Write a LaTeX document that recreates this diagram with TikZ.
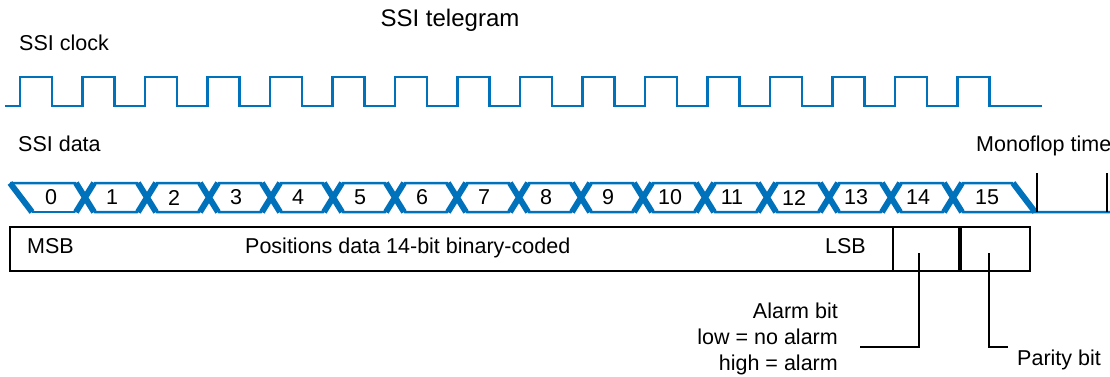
\documentclass[tikz,border=0pt]{standalone}
\usepackage{fontspec}
\setmainfont{Liberation Sans}
\usepackage{tikz}
\usepackage{xcolor}
\definecolor{ssiblue}{RGB}{0,114,188}

\begin{document}
\begin{tikzpicture}[x=1pt, y=-1pt,
    every node/.style={inner sep=0pt, font=\fontsize{21.5}{25.5}\selectfont},
    wave/.style={ssiblue, line width=2.5pt},
    cross/.style={ssiblue, line width=6pt},
    frame/.style={line width=2.5pt},
    lead/.style={line width=2pt}]
            \useasboundingbox (0,0) rectangle (1110,377);

            % clock
            \draw[wave] (5,106) \foreach \k in {0,...,15} {
                -- ({20+62.5*\k},106) -- ({20+62.5*\k},77) -- ({52+62.5*\k},77) -- ({52+62.5*\k},106)
            } -- (1042,106);

            % data
            \draw[wave] (75,212) -- (85,197.5) -- (75,183) -- (10,183);
            \draw[wave] (75,212) -- (32,212);
            \draw[cross] (10,183) -- (32,212);
            \foreach \k in {1,...,14} {
                \draw[wave] ({85+62*(\k-1)},197.5) -- ({95+62*(\k-1)},183) -- ({75+62*\k},183)
                    -- ({85+62*\k},197.5) -- ({75+62*\k},212) -- ({95+62*(\k-1)},212) -- cycle;
            }
            \draw[wave] (1013,183) -- (963,183) -- (953,197.5) -- (963,212) -- (1110,212);
            \draw[cross] (1013,183) -- (1035,212);
            \foreach \k in {1,...,15} {
                \draw[cross] ({76+62*(\k-1)},183) -- ({94+62*(\k-1)},212)
                    ({76+62*(\k-1)},212) -- ({94+62*(\k-1)},183);
            }

            \node (b0) at (51,197.5) {0};
            \foreach \k in {1,...,14} {
                \node (b\k) at ({62*\k+50},197.5) {\k};
            }
            \node (b15) at (987,197.5) {15};

            % monoflop
            \draw[lead] (1037,173) -- (1037,212);
            \draw[lead] (1107,173) -- (1107,212);

            % data word
            \draw[frame] (10,227) rectangle (1030,271);
            \draw[frame] (893,227) -- (893,271);
            \draw[line width=4pt] (960,227) -- (960,271);

            \node[anchor=base, font=\fontsize{24}{28}\selectfont] (title) at (450,27) {SSI telegram};
            \node[anchor=base west] (clk) at (19,51) {SSI clock};
            \node[anchor=base west] (dat) at (18,151) {SSI data};
            \node[anchor=base west] (mono) at (976,151) {Monoflop time};
            \node[anchor=base west] (msb) at (27,253) {MSB};
            \node[anchor=base west] (posdata) at (245,253) {Positions data 14-bit binary-coded};
            \node[anchor=base east] (lsb) at (866,253) {LSB};
            \node[anchor=east, align=right, font=\fontsize{21.5}{26}\selectfont] (alarm) at (838,339) {Alarm bit\\low = no alarm\\high = alarm};
            \node[anchor=base west] (parity) at (1017,365) {Parity bit};

            \coordinate (alarmtap) at (919,253);
            \coordinate (alarmend) at (860,347);
            \coordinate (paritytap) at (989,253);
            \coordinate (parityend) at (1008,347);
            \draw[lead] (alarmtap) |- (alarmend);
            \draw[lead] (paritytap) |- (parityend);
        \end{tikzpicture}
\end{document}
